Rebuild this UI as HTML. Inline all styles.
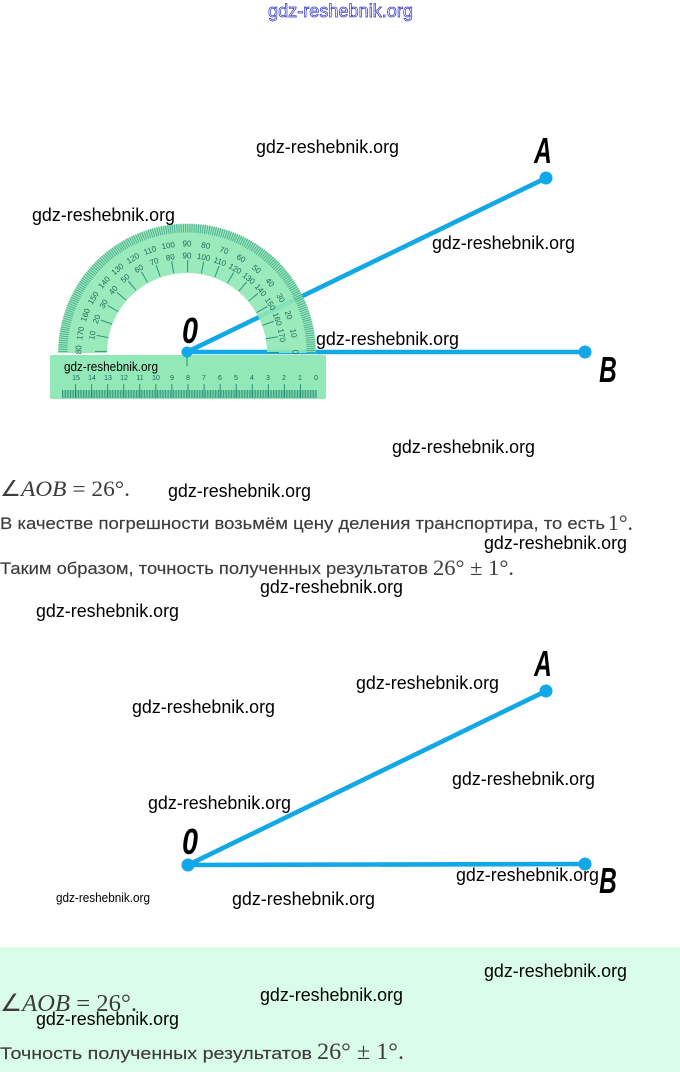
<!DOCTYPE html>
<html><head><meta charset="utf-8"><style>
html,body{margin:0;padding:0;background:#fff}
svg{display:block}
.w{font-family:"Liberation Sans",sans-serif;font-size:18px;fill:#000}
.s{font-family:"Liberation Sans",sans-serif;font-size:12.5px;fill:#000}
.t{font-family:"Liberation Sans",sans-serif;font-size:16.5px;fill:#3c3c3c;stroke:#3c3c3c;stroke-width:.15}
.m{font-family:"Liberation Serif",serif;font-size:22px;fill:#3c3c3c}
.l{font-family:"Liberation Sans",sans-serif;font-weight:bold;font-style:italic;font-size:36px;fill:#000;text-anchor:middle}
.p text{font-family:"Liberation Sans",sans-serif;font-size:8px;fill:#1c6a5a;text-anchor:middle}
.r text{font-family:"Liberation Sans",sans-serif;font-size:7px;fill:#1c6a5a;text-anchor:middle}
</style></head><body>
<svg xmlns="http://www.w3.org/2000/svg" width="680" height="1072" viewBox="0 0 680 1072">
<defs><clipPath id="h"><rect x="40" y="210" width="300" height="143"/></clipPath></defs>
<rect x="0" y="947" width="680" height="125" fill="#d9fde9"/>

<text x="268" y="17" class="w" textLength="145" lengthAdjust="spacingAndGlyphs" style="fill:#fff;stroke:#3030c8;stroke-width:.7">gdz-reshebnik.org</text>

<!-- Diagram 1 -->
<g stroke="#12a8e8" stroke-width="4.6" fill="#12a8e8">
<line x1="187" y1="352" x2="546" y2="178"/>
<line x1="187" y1="352" x2="585" y2="352"/>
<circle cx="546" cy="178" r="6.5" stroke="none"/>
<circle cx="585" cy="352" r="6.5" stroke="none"/>
</g>
<path d="M58 353A129 129 0 0 1 316 353H267A80 80 0 0 0 107 353Z" fill="#90e8b5" opacity=".9"/>
<g clip-path="url(#h)" fill="none" stroke="#1f8a74">
<circle cx="187" cy="352" r="124" stroke-width="9" stroke-dasharray="1 1.164" opacity=".6"/>
<circle cx="187" cy="352" r="86" stroke-width="12" stroke-dasharray="1 14.009" opacity=".9"/>
</g>
<g class="p">
<text x="187" y="246.5" transform="rotate(-90 187 352)">180</text>
<text x="187" y="246.5" transform="rotate(-80 187 352)">170</text>
<text x="187" y="246.5" transform="rotate(-70 187 352)">160</text>
<text x="187" y="246.5" transform="rotate(-60 187 352)">150</text>
<text x="187" y="246.5" transform="rotate(-50 187 352)">140</text>
<text x="187" y="246.5" transform="rotate(-40 187 352)">130</text>
<text x="187" y="246.5" transform="rotate(-30 187 352)">120</text>
<text x="187" y="246.5" transform="rotate(-20 187 352)">110</text>
<text x="187" y="246.5" transform="rotate(-10 187 352)">100</text>
<text x="187" y="246.5">90</text>
<text x="187" y="246.5" transform="rotate(10 187 352)">80</text>
<text x="187" y="246.5" transform="rotate(20 187 352)">70</text>
<text x="187" y="246.5" transform="rotate(30 187 352)">60</text>
<text x="187" y="246.5" transform="rotate(40 187 352)">50</text>
<text x="187" y="246.5" transform="rotate(50 187 352)">40</text>
<text x="187" y="246.5" transform="rotate(60 187 352)">30</text>
<text x="187" y="246.5" transform="rotate(70 187 352)">20</text>
<text x="187" y="246.5" transform="rotate(80 187 352)">10</text>
<text x="187" y="246.5" transform="rotate(90 187 352)">0</text>
<text x="187" y="258.5" transform="rotate(-80 187 352)">10</text>
<text x="187" y="258.5" transform="rotate(-70 187 352)">20</text>
<text x="187" y="258.5" transform="rotate(-60 187 352)">30</text>
<text x="187" y="258.5" transform="rotate(-50 187 352)">40</text>
<text x="187" y="258.5" transform="rotate(-40 187 352)">50</text>
<text x="187" y="258.5" transform="rotate(-30 187 352)">60</text>
<text x="187" y="258.5" transform="rotate(-20 187 352)">70</text>
<text x="187" y="258.5" transform="rotate(-10 187 352)">80</text>
<text x="187" y="258.5">90</text>
<text x="187" y="258.5" transform="rotate(10 187 352)">100</text>
<text x="187" y="258.5" transform="rotate(20 187 352)">110</text>
<text x="187" y="258.5" transform="rotate(30 187 352)">120</text>
<text x="187" y="258.5" transform="rotate(40 187 352)">130</text>
<text x="187" y="258.5" transform="rotate(50 187 352)">140</text>
<text x="187" y="258.5" transform="rotate(60 187 352)">150</text>
<text x="187" y="258.5" transform="rotate(70 187 352)">160</text>
<text x="187" y="258.5" transform="rotate(80 187 352)">170</text>
</g>
<rect x="50" y="355" width="276" height="44" rx="2" fill="#93e8b7"/>
<g class="r" fill="none">
<line x1="62" y1="394" x2="317" y2="394" stroke="#1f8a74" stroke-width="8" stroke-dasharray=".9 .71" opacity=".85"/>
<line x1="75" y1="391" x2="316" y2="391" stroke="#1f8a74" stroke-width="14" stroke-dasharray="1 15.07" opacity=".9"/>
<text x="76" y="380">15</text><text x="92" y="380">14</text><text x="108" y="380">13</text><text x="124" y="380">12</text>
<text x="140" y="380">11</text><text x="156" y="380">10</text><text x="172" y="380">9</text><text x="188" y="380">8</text>
<text x="204" y="380">7</text><text x="220" y="380">6</text><text x="236" y="380">5</text><text x="252" y="380">4</text>
<text x="268" y="380">3</text><text x="284" y="380">2</text><text x="300" y="380">1</text><text x="316" y="380">0</text>
</g>
<line x1="187" y1="352" x2="187" y2="366" stroke="#1f8a74"/>
<circle cx="187" cy="352" r="5.5" fill="#12a8e8"/>
<text x="0" y="0" class="l" transform="translate(190 343) scale(.8 1)">0</text>
<text x="0" y="0" class="l" transform="translate(543 163) scale(.68 1)">A</text>
<text x="0" y="0" class="l" transform="translate(608 382) scale(.68 1)">B</text>

<!-- Text block 1 -->
<text x="0" y="496" class="m" textLength="130" lengthAdjust="spacingAndGlyphs"><tspan>∠</tspan><tspan font-style="italic">AOB</tspan><tspan> = 26°.</tspan></text>
<text x="0" y="529" class="t" textLength="605" lengthAdjust="spacingAndGlyphs">В качестве погрешности возьмём цену деления транспортира, то есть</text>
<text x="608" y="530" class="m" textLength="25" lengthAdjust="spacingAndGlyphs">1°.</text>
<text x="0" y="574" class="t" textLength="428" lengthAdjust="spacingAndGlyphs">Таким образом, точность полученных результатов</text>
<text x="433" y="575" class="m" textLength="81" lengthAdjust="spacingAndGlyphs">26° ± 1°.</text>

<!-- Diagram 2 -->
<g stroke="#12a8e8" stroke-width="4.6" fill="#12a8e8">
<line x1="188" y1="865" x2="546" y2="691"/>
<line x1="188" y1="865" x2="585" y2="864"/>
<circle cx="188" cy="865" r="6.5" stroke="none"/>
<circle cx="546" cy="691" r="6.5" stroke="none"/>
<circle cx="585" cy="864" r="6.5" stroke="none"/>
</g>
<text x="0" y="0" class="l" transform="translate(190 854) scale(.8 1)">0</text>
<text x="0" y="0" class="l" transform="translate(543 676) scale(.68 1)">A</text>
<text x="0" y="0" class="l" transform="translate(608 893) scale(.68 1)">B</text>

<!-- Text block 2 -->
<text x="0" y="1011" class="m" style="font-size:24px" textLength="137" lengthAdjust="spacingAndGlyphs"><tspan>∠</tspan><tspan font-style="italic">AOB</tspan><tspan> = 26°.</tspan></text>
<text x="0" y="1059" class="t" textLength="312" lengthAdjust="spacingAndGlyphs">Точность полученных результатов</text>
<text x="317" y="1059" class="m" style="font-size:23px" textLength="87" lengthAdjust="spacingAndGlyphs">26° ± 1°.</text>

<!-- Watermarks -->
<g class="w">
<text x="256" y="153" textLength="143" lengthAdjust="spacingAndGlyphs">gdz-reshebnik.org</text>
<text x="32" y="221" textLength="143" lengthAdjust="spacingAndGlyphs">gdz-reshebnik.org</text>
<text x="432" y="249" textLength="143" lengthAdjust="spacingAndGlyphs">gdz-reshebnik.org</text>
<text x="316" y="345" textLength="143" lengthAdjust="spacingAndGlyphs">gdz-reshebnik.org</text>
<text x="392" y="453" textLength="143" lengthAdjust="spacingAndGlyphs">gdz-reshebnik.org</text>
<text x="168" y="497" textLength="143" lengthAdjust="spacingAndGlyphs">gdz-reshebnik.org</text>
<text x="484" y="549" textLength="143" lengthAdjust="spacingAndGlyphs">gdz-reshebnik.org</text>
<text x="260" y="593" textLength="143" lengthAdjust="spacingAndGlyphs">gdz-reshebnik.org</text>
<text x="36" y="617" textLength="143" lengthAdjust="spacingAndGlyphs">gdz-reshebnik.org</text>
<text x="356" y="689" textLength="143" lengthAdjust="spacingAndGlyphs">gdz-reshebnik.org</text>
<text x="132" y="713" textLength="143" lengthAdjust="spacingAndGlyphs">gdz-reshebnik.org</text>
<text x="452" y="785" textLength="143" lengthAdjust="spacingAndGlyphs">gdz-reshebnik.org</text>
<text x="148" y="809" textLength="143" lengthAdjust="spacingAndGlyphs">gdz-reshebnik.org</text>
<text x="456" y="881" textLength="143" lengthAdjust="spacingAndGlyphs">gdz-reshebnik.org</text>
<text x="232" y="905" textLength="143" lengthAdjust="spacingAndGlyphs">gdz-reshebnik.org</text>
<text x="484" y="977" textLength="143" lengthAdjust="spacingAndGlyphs">gdz-reshebnik.org</text>
<text x="260" y="1001" textLength="143" lengthAdjust="spacingAndGlyphs">gdz-reshebnik.org</text>
<text x="36" y="1025" textLength="143" lengthAdjust="spacingAndGlyphs">gdz-reshebnik.org</text>
</g>
<text x="64" y="371" class="s" textLength="94" lengthAdjust="spacingAndGlyphs">gdz-reshebnik.org</text>
<text x="56" y="902" class="s" textLength="94" lengthAdjust="spacingAndGlyphs">gdz-reshebnik.org</text>
</svg>
</body></html>
